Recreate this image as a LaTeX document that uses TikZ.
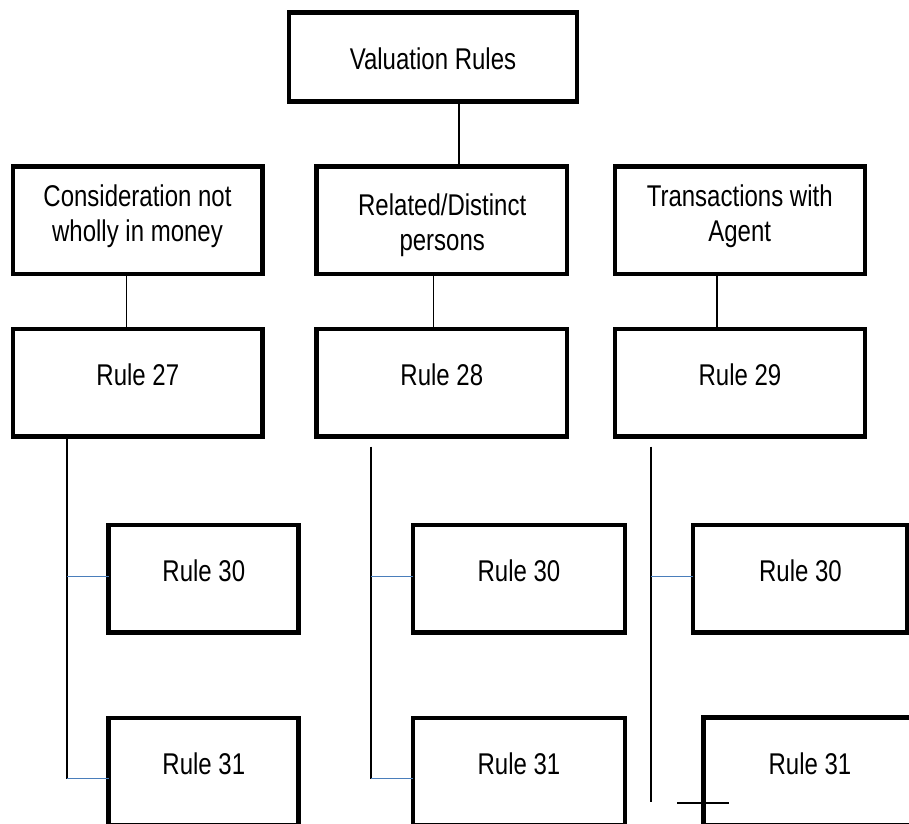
\documentclass[tikz,border=0pt]{standalone}
\usepackage{fontspec}
\setmainfont{Liberation Sans}[FakeStretch=0.80]
\definecolor{blueline}{HTML}{4A7EBB}
\begin{document}
\begin{tikzpicture}[x=1pt,y=-1pt,
  box/.style={draw=black, line width=4.7pt, rectangle, inner sep=0pt, outer sep=0pt},
  rulebox/.style={box, minimum height=107.5},
  lbl/.style={font=\fontsize{30}{35}\selectfont, inner sep=0pt, anchor=base, align=center, text=black},
  link/.style={line width=1.2pt, draw=black},
  blink/.style={line width=1.3pt, draw=blueline}]
\clip (0,0) rectangle (909,823);
\fill[white] (0,0) rectangle (909,823);

% coordinates for connector routes
\coordinate (k0) at (459,0);
\coordinate (k1) at (126.7,0);
\coordinate (k2) at (433.3,0);
\coordinate (k3) at (717,0);
\coordinate (v1) at (67,778.7);
\coordinate (h1) at (67,576.7);
\coordinate (t2) at (371,446.7);
\coordinate (v2) at (371,778.7);
\coordinate (h2) at (371,576.7);
\coordinate (t3) at (651,446.7);
\coordinate (v3) at (651,802);
\coordinate (h3) at (651,576.7);
\coordinate (xa) at (677,803);
\coordinate (xb) at (729,803);

% boxes
\node[box, minimum width=288, minimum height=89.3] (vr) at (433,57.15) {};
\node[rulebox, minimum width=249.7] (c1) at (137.85,220.25) {};
\node[rulebox, minimum width=250.3] (c2) at (441.85,220.25) {};
\node[rulebox, minimum width=250] (c3) at (740,220.25) {};
\node[rulebox, minimum width=249.7] (r27) at (137.85,382.85) {};
\node[rulebox, minimum width=250.3] (r28) at (441.85,382.85) {};
\node[rulebox, minimum width=250] (r29) at (740,382.85) {};
\node[rulebox, minimum width=190] (a1) at (203.8,578.75) {};
\node[rulebox, minimum width=212] (a2) at (519,578.75) {};
\node[rulebox, minimum width=214] (a3) at (800,578.75) {};
\node[rulebox, minimum width=190] (b1) at (203.8,771.75) {};
\node[rulebox, minimum width=212] (b2) at (519,771.75) {};
\node[rulebox, minimum width=213] (b3) at (810,771.5) {};

% texts (anchor base = baseline of the last line)
\node[lbl] (tvr) at (433,69.3) {Valuation Rules};
\node[lbl] (tc1) at (137.5,241.7) {Consideration not\\wholly in money};
\node[lbl] (tc2) at (442.2,250) {Related/Distinct\\persons};
\node[lbl] (tc3) at (739.7,241.7) {Transactions with\\Agent};
\node[lbl] (t27) at (137.85,385) {Rule 27};
\node[lbl] (t28) at (441.85,385) {Rule 28};
\node[lbl] (t29) at (740,385) {Rule 29};
\node[lbl] (ta1) at (203.8,581) {Rule 30};
\node[lbl] (ta2) at (519,581) {Rule 30};
\node[lbl] (ta3) at (800.5,581) {Rule 30};
\node[lbl] (tb1) at (203.8,774) {Rule 31};
\node[lbl] (tb2) at (519,774) {Rule 31};
\node[lbl] (tb3) at (810,774) {Rule 31};

% connectors
\draw[link] (vr.south -| k0) -- (c2.north -| k0);
\draw[link] (c1.south -| k1) -- (r27.north -| k1);
\draw[link] (c2.south -| k2) -- (r28.north -| k2);
\draw[link] (c3.south -| k3) -- (r29.north -| k3);
\draw[link] (r27.south -| v1) -- (v1);
\draw[link] (t2) -- (v2);
\draw[link] (t3) -- (v3);
\draw[blink] (h1) -- (a1.west |- h1);
\draw[blink] (v1) -- (b1.west |- v1);
\draw[blink] (h2) -- (a2.west |- h2);
\draw[blink] (v2) -- (b2.west |- v2);
\draw[blink] (h3) -- (a3.west |- h3);
\draw[link] (xa) -- (xb);
\end{tikzpicture}
\end{document}
